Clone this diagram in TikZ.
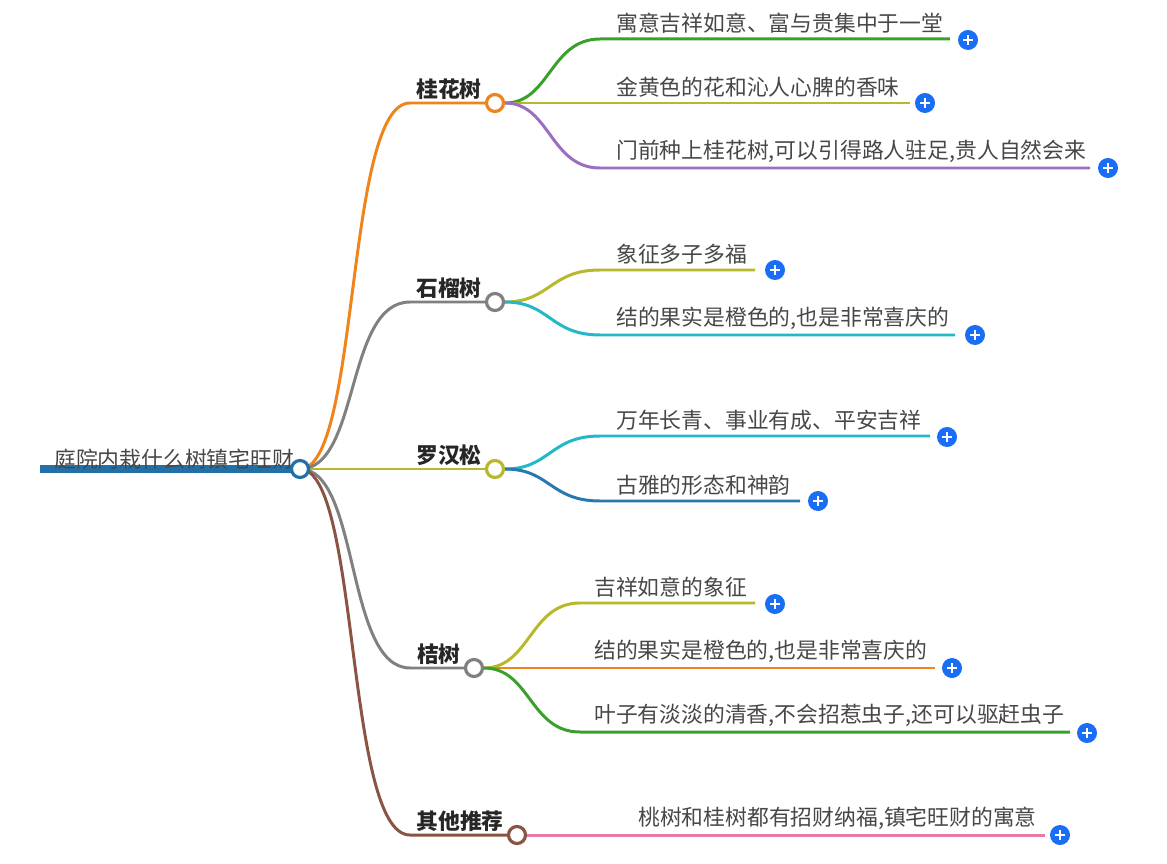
\documentclass[tikz,border=0pt]{standalone}
\usepackage{fontspec}
\setmainfont{Noto Sans CJK SC}
\usetikzlibrary{positioning, calc}
\definecolor{cOrange}{HTML}{F0841C}
\definecolor{cGray}{HTML}{808080}
\definecolor{cOlive}{HTML}{B8B82C}
\definecolor{cBrown}{HTML}{8B5344}
\definecolor{cGreen}{HTML}{3AA02C}
\definecolor{cPurple}{HTML}{9B6FC0}
\definecolor{cCyan}{HTML}{22B8CA}
\definecolor{cBlue}{HTML}{2A78B0}
\definecolor{cPink}{HTML}{E87AAA}
\definecolor{cPlus}{HTML}{1A6EF5}
\definecolor{cRoot}{HTML}{2270A8}
\begin{document}
\begin{tikzpicture}[x=0.01cm, y=-0.01cm,
    topic/.style={circle, draw=#1, fill=white, line width=0.9pt, inner sep=0pt, minimum size=0.17cm},
    lvl/.style={font=\fontsize{6.2}{7}\selectfont\bfseries, text=black!85, anchor=south east, inner sep=1pt},
    leaf/.style={font=\fontsize{6.2}{7}\selectfont, text=black!72, anchor=south west, inner sep=1pt},
    plus/.style={circle, fill=cPlus, inner sep=0pt, minimum size=0.2cm,
        path picture={\draw[white, line width=0.8pt] ($(path picture bounding box.center)+(-5,0)$) -- ($(path picture bounding box.center)+(5,0)$)
        ($(path picture bounding box.center)+(0,-5)$) -- ($(path picture bounding box.center)+(0,5)$);}},
    edge/.style={line width=0.85pt, draw=#1}
]
\useasboundingbox (0,0) rectangle (1167,864);

% Root
\draw[line width=2.4pt, cRoot] (40,469) -- (300,469);
\node[leaf] (root) at (50,474) {庭院内栽什么树镇宅旺财};

% Level one
\draw[edge=cOrange] (300,469) .. controls (360,469) and (345,103) .. (410,103) -- (495,103);
\draw[edge=cGray] (300,469) .. controls (360,469) and (345,302) .. (410,302) -- (495,302);
\draw[edge=cOlive] (300,469) -- (495,469);
\draw[edge=cGray] (300,469) .. controls (360,469) and (345,668) .. (410,668) -- (474,668);
\draw[edge=cBrown] (300,469) .. controls (360,469) and (345,835) .. (410,835) -- (517,835);
\node[topic=cRoot] (c0) at (300,469) {};

\node[topic=cOrange] (gui) at (495,103) {};
\node[topic=cGray] (shi) at (495,302) {};
\node[topic=cOlive] (luo) at (495,469) {};
\node[topic=cGray] (ju) at (474,668) {};
\node[topic=cBrown] (qi) at (517,835) {};
\node[lvl] at (486,104) {桂花树};
\node[lvl] at (486,303) {石榴树};
\node[lvl] at (486,470) {罗汉松};
\node[lvl] at (465,669) {桔树};
\node[lvl] at (508,836) {其他推荐};

% Leaves of 桂花树
\draw[edge=cGreen] (gui.east) .. controls (550,103) and (550,39) .. (600,39) -- (950,39);
\draw[edge=cOlive] (gui.east) -- (910,103);
\draw[edge=cPurple] (gui.east) .. controls (550,103) and (550,168) .. (600,168) -- (1090,168);
\node[leaf] at (612,38) {寓意吉祥如意、富与贵集中于一堂};
\node[leaf] at (612,102) {金黄色的花和沁人心脾的香味};
\node[leaf] at (612,167) {门前种上桂花树,可以引得路人驻足,贵人自然会来};
\node[plus] (p1) at (968,40) {};
\node[plus] (p2) at (925,103) {};
\node[plus] (p3) at (1108,168) {};

% Leaves of 石榴树
\draw[edge=cOlive] (shi.east) .. controls (550,302) and (550,270) .. (600,270) -- (755,270);
\draw[edge=cCyan] (shi.east) .. controls (550,302) and (550,335) .. (600,335) -- (955,335);
\node[leaf] at (612,269) {象征多子多福};
\node[leaf] at (612,334) {结的果实是橙色的,也是非常喜庆的};
\node[plus] (p4) at (775,270) {};
\node[plus] (p5) at (975,335) {};

% Leaves of 罗汉松
\draw[edge=cCyan] (luo.east) .. controls (550,469) and (550,436) .. (600,436) -- (930,436);
\draw[edge=cBlue] (luo.east) .. controls (550,469) and (550,501) .. (600,501) -- (800,501);
\node[leaf] at (612,435) {万年长青、事业有成、平安吉祥};
\node[leaf] at (612,500) {古雅的形态和神韵};
\node[plus] (p6) at (947,437) {};
\node[plus] (p7) at (818,501) {};

% Leaves of 桔树
\draw[edge=cOlive] (ju.east) .. controls (530,668) and (530,603) .. (580,603) -- (755,603);
\draw[edge=cOrange] (ju.east) -- (935,668);
\draw[edge=cGreen] (ju.east) .. controls (530,668) and (530,732) .. (580,732) -- (1070,732);
\node[leaf] at (590,602) {吉祥如意的象征};
\node[leaf] at (590,667) {结的果实是橙色的,也是非常喜庆的};
\node[leaf] at (590,731) {叶子有淡淡的清香,不会招惹虫子,还可以驱赶虫子};
\node[plus] (p8) at (775,604) {};
\node[plus] (p9) at (952,668) {};
\node[plus] (p10) at (1087,733) {};

% Leaf of 其他推荐
\draw[edge=cPink] (qi.east) -- (1045,835);
\node[leaf] at (634,834) {桃树和桂树都有招财纳福,镇宅旺财的寓意};
\node[plus] (p11) at (1060,835) {};
\end{tikzpicture}
\end{document}
